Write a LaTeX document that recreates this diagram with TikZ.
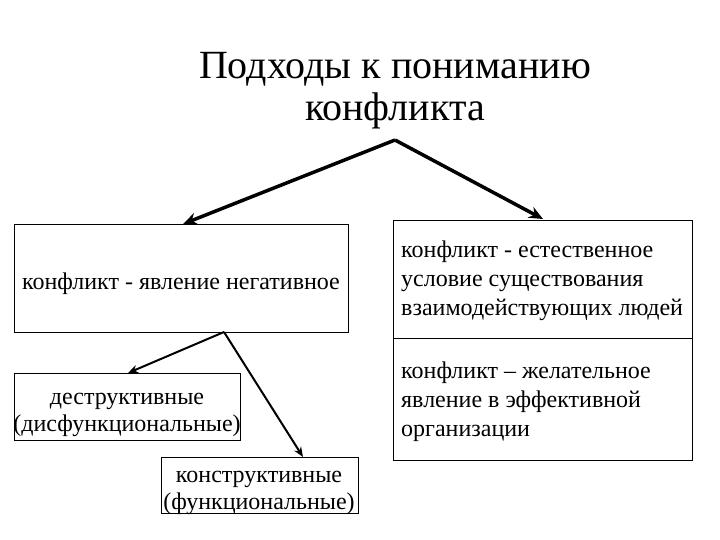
\documentclass[tikz,border=0pt]{standalone}
\usepackage{fontspec}
\setmainfont{Liberation Serif}
\usetikzlibrary{arrows.meta}
\begin{document}
\begin{tikzpicture}[x=1pt,y=-1pt,
  box/.style={draw, line width=0.9pt, inner sep=0pt},
  txt/.style={font=\fontsize{24}{27.5}\selectfont, align=center, inner sep=0pt},
  ltxt/.style={font=\fontsize{24}{29}\selectfont, align=left, inner sep=0pt, anchor=west},
  bigarr/.style={line width=3.5pt, -{Stealth[length=14pt,width=12pt]}},
  smallarr/.style={line width=2pt, -{Stealth[length=10pt,width=8pt]}}]
\useasboundingbox (0,0) rectangle (720,540);
\node[font=\fontsize{40}{42}\selectfont, align=center, inner sep=0pt] (title) at (395,91) {Подходы к пониманию\\конфликта};
\coordinate (apex) at (395,140);
\draw[box] (14,224) rectangle (348,332);
\node[txt] (neg) at (181,284) {конфликт - явление негативное};
\coordinate (negtop) at (183,224);
\coordinate (negbot) at (224,332);
\draw[box] (393,220) rectangle (692,460);
\draw[line width=0.9pt] (393,338) -- (692,338);
\node[ltxt] (nat) at (401,281) {конфликт - естественное\\условие существования\\взаимодействующих людей};
\node[ltxt] (des) at (401,402) {конфликт – желательное\\явление в эффективной\\организации};
\coordinate (righttop) at (543,219);
\draw[box] (14,373) rectangle (240,440);
\node[txt] (destr) at (127,415) {деструктивные\\(дисфункциональные)};
\coordinate (destrtop) at (128,373);
\draw[box] (161,457) rectangle (358,513);
\node[txt] (constr) at (259,493) {конструктивные\\(функциональные)};
\coordinate (constrtop) at (303,457);
\draw[bigarr] (apex) -- (negtop);
\draw[bigarr] (apex) -- (righttop);
\draw[smallarr] (negbot) -- (destrtop);
\draw[smallarr] (negbot) -- (constrtop);
\end{tikzpicture}
\end{document}
